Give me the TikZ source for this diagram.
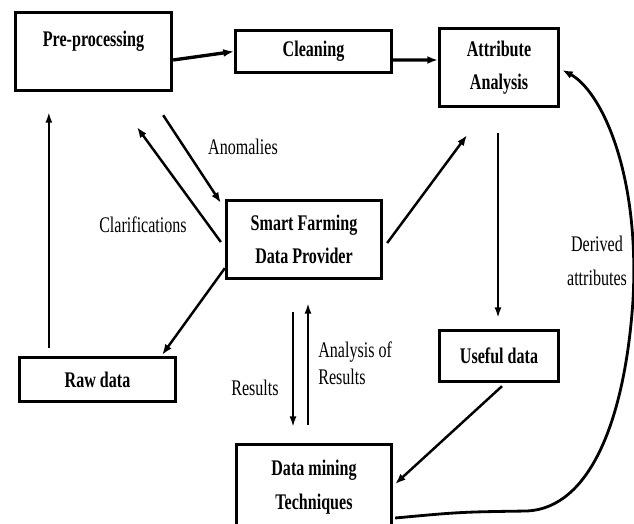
\documentclass[tikz,border=0pt]{standalone}
\usepackage{fontspec}
\setmainfont{Liberation Serif}[FakeStretch=0.72]
\usetikzlibrary{arrows.meta,calc}

\begin{document}
\begin{tikzpicture}[
  x=0.02cm, y=-0.02cm,
  font=\fontsize{12.7}{19}\selectfont,
  box/.style = {draw, line width=1.9pt, align=center, inner sep=0pt,
    font=\fontsize{12.7}{19}\selectfont\bfseries},
  lbl/.style = {align=center, inner sep=0pt},
  heavy/.style = {-{Latex[length=6pt,width=4.5pt]}, line width=1.9pt},
  flow/.style = {-{Latex[length=6pt,width=4.5pt]}, line width=1.4pt},
  slim/.style = {-{Latex[length=6pt,width=4pt]}, line width=1.1pt},
]
  \useasboundingbox (0,0) rectangle (634,523);

  % boxes
  \node[box, minimum width=3.12cm, minimum height=1.56cm, text depth=0.5cm] (pre) at (93.5,51.5) {Pre-processing};
  \node[box, minimum width=3.12cm, minimum height=0.84cm] (clean) at (313.5,51.5) {Cleaning};
  \node[box, minimum width=2.38cm, minimum height=1.56cm] (attr) at (499,67.5) {Attribute\\Analysis};
  \node[box, minimum width=3.10cm, minimum height=1.56cm] (smart) at (304,239.5) {Smart Farming\\Data Provider};
  \node[box, minimum width=3.12cm, minimum height=0.88cm] (raw) at (97.5,379.5) {Raw data};
  \node[box, minimum width=2.38cm, minimum height=1.02cm] (useful) at (499,356) {Useful data};
  \node[box, minimum width=3.10cm, minimum height=1.7cm] (mining) at (314,487) {Data mining\\Techniques};

  % labels
  \node[lbl] (anom) at (243,147) {Anomalies};
  \node[lbl] (clar) at (143,225) {Clarifications};
  \node[lbl] (res) at (255,388) {Results};
  \node[lbl, align=left, anchor=west, font=\fontsize{12.7}{15.5}\selectfont] (anres) at (318,363) {Analysis of\\Results};
  \node[lbl] (deriv) at (597,261) {Derived\\attributes};

  % arrows
  \draw[heavy] ($(pre.east)+(0,8.5)$) -- (clean.west);
  \draw[heavy] ($(clean.east)+(0,8.5)$) -- ($(attr.west)+(0,-7.5)$);
  \draw[slim] ($(raw.north west)+(31,-8)$) -- ($(pre.south west)+(35,20)$);
  \draw[flow] ($(pre.south east)+(-10,23)$) -- ($(smart.north west)+(-4,4)$);
  \draw[flow] ($(smart.west)+(-4,2.5)$) -- ($(pre.south)+(43.5,35)$);
  \draw[flow] ($(smart.south west)+(0,-12)$) -- ($(raw.north east)+(-15,-1)$);
  \draw[flow] ($(smart.east)+(4,3.5)$) -- ($(attr.south)+(-32,27)$);
  \draw[slim] ($(attr.south)+(-1,25)$) -- ($(useful.north)+(-1,-11)$);
  \draw[flow] ($(useful.south)+(3,3)$) -- ($(mining.east)+(2,-3)$);
  \draw[slim] ($(smart.south)+(-11,32)$) -- ($(mining.north)+(-21,-16)$);
  \draw[slim] ($(mining.north)+(-6,-18)$) -- ($(smart.south)+(4,23)$);
  \draw[flow, line width=1.6pt] ($(mining.east)+(2,31)$) .. controls (460,512) .. (527,511)
    .. controls (590,508) and (625,420) .. (633,300)
    .. controls (640,170) and (600,90) .. ($(attr.east)+(2,2.5)$);
\end{tikzpicture}
\end{document}
